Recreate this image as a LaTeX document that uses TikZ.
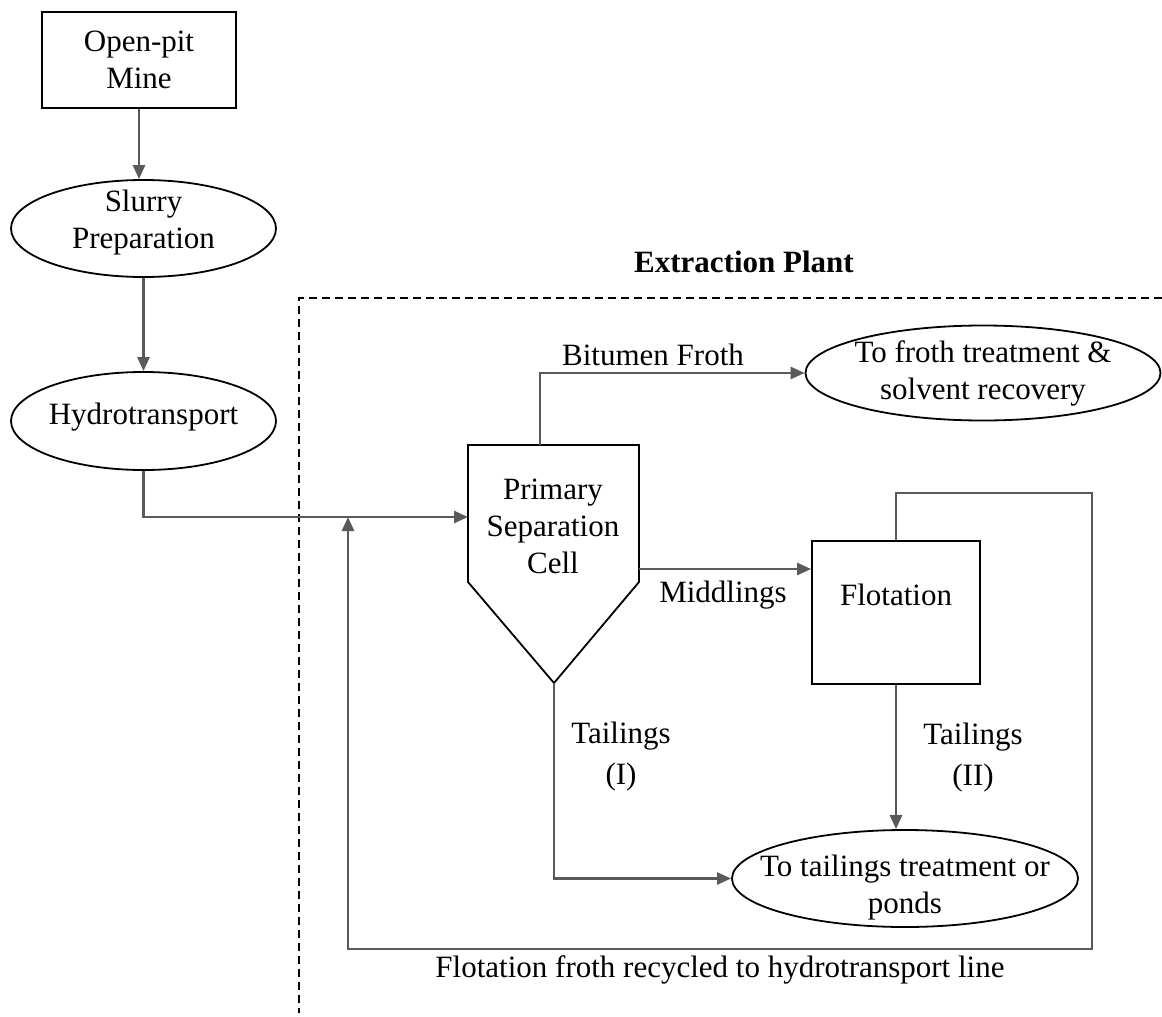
\documentclass[tikz,border=0pt]{standalone}
\usepackage{fontspec}
\setmainfont{Liberation Serif}
\usetikzlibrary{arrows.meta,positioning,shapes.geometric}
\definecolor{flowgray}{HTML}{5A5A5A}

\begin{document}
\begin{tikzpicture}[x=0.5pt, y=-0.5pt, font=\fontsize{15.5}{18.5}\selectfont,
      blk/.style={draw, line width=0.9pt, align=center, inner sep=0pt},
      oval/.style={draw, ellipse, line width=0.9pt, inner sep=0pt},
      shp/.style={draw, line width=0.9pt, line join=miter},
      arr/.style={-{Triangle[length=7pt, width=6pt]}, flowgray, line width=1.3pt},
      lbl/.style={align=center, inner sep=0pt}]
    \useasboundingbox (0,0) rectangle (1162,1017);
    \node[blk, minimum width=97pt, minimum height=48pt] (mine) at (139,60) {Open-pit\\Mine};
    \node[oval, minimum width=132.5pt, minimum height=48.5pt,
          label={[lbl, yshift=3pt, name=slurrylbl]center:Slurry\\Preparation}] (slurry) at (143.5,228.5) {};
    \node[oval, minimum width=132.5pt, minimum height=49pt,
          label={[lbl, yshift=2pt, name=hydrolbl]center:Hydrotransport}] (hydro) at (143.5,421) {};
    \node[font=\fontsize{15.5}{18.5}\selectfont\bfseries] (plant) at (744,262) {Extraction Plant};
    \draw[dashed, dash pattern=on 4pt off 2.5pt, line width=0.6pt] (1162,298) -- (299,298) -- (299,1013);
    \node[lbl] (psc) at (553,526) {Primary\\Separation\\Cell};
    \coordinate (pscnw) at (468,445);
    \coordinate (pscne) at (639,445);
    \coordinate (pscse) at (639,582);
    \coordinate (pscsw) at (468,582);
    \coordinate (pscbot) at (554,683);
    \coordinate (pscin) at (468,517);
    \coordinate (pscout) at (540,445);
    \coordinate (pscmid) at (639,569);
    \draw[shp] (pscnw) -- (pscne) -- (pscse) -- (pscbot) -- (pscsw) -- cycle;
    \node[oval, minimum width=177.5pt, minimum height=47.5pt,
          label={[lbl, name=frothlbl]center:To froth treatment \&\\solvent recovery}] (froth) at (983,373) {};
    \node[blk, minimum width=84pt, minimum height=71.5pt,
          label={[lbl, yshift=8.75pt, name=flotlbl]center:Flotation}] (flot) at (896,612.5) {};
    \node[oval, minimum width=173pt, minimum height=48.5pt,
          label={[lbl, yshift=-4.5pt, name=taillbl]center:To tailings treatment or\\ponds}] (tail) at (905,878.5) {};
    \coordinate (rcne) at (1092,493);
    \coordinate (rcsw) at (348,949);
    \draw[arr] (mine.south) -- (mine.south |- slurry.north);
    \draw[arr] (slurry.south) -- (hydro.north);
    \draw[arr] (hydro.south) |- (pscin);
    \draw[arr] (pscout) |- (froth.west);
    \draw[arr] (pscmid) -- (pscmid -| flot.west);
    \draw[arr] (flot.south) -- (flot.south |- tail.north);
    \draw[arr] (pscbot) |- (tail.west);
    \draw[arr] (flot.north) |- (rcne) |- (rcsw) -- (rcsw |- pscin);
    \node[lbl] (bitlbl) at (653,355) {Bitumen Froth};
    \node[lbl] (midlbl) at (723,595) {Middlings};
    \node[lbl, font=\fontsize{15.5}{20.5}\selectfont] (tl1lbl) at (621,757) {Tailings\\(I)};
    \node[lbl, font=\fontsize{15.5}{20.5}\selectfont] (tl2lbl) at (973,758) {Tailings\\(II)};
    \node[lbl] (rclbl) at (720,970) {Flotation froth recycled to hydrotransport line};
\end{tikzpicture}
\end{document}
